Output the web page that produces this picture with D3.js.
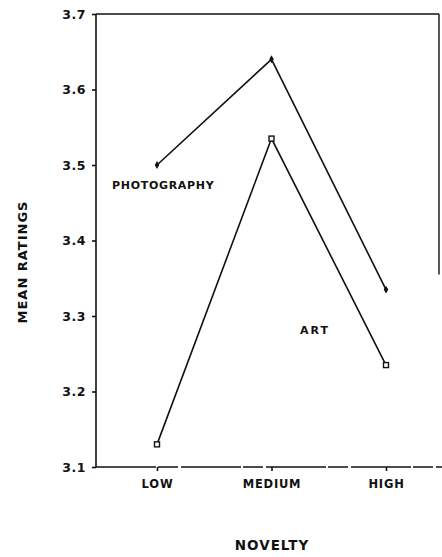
<!DOCTYPE html>
<html>
<head>
<meta charset="utf-8">
<script src="https://cdn.jsdelivr.net/npm/d3@7"></script>
<style>
  body { margin: 0; background: #fff; }
  text { font-family: "DejaVu Sans", sans-serif; font-weight: bold; fill: #111; }
  .axis path, .axis line { stroke: #111; stroke-width: 1.6; }
</style>
</head>
<body>
<script>
// novelty levels and mean ratings
var novelty = ["LOW", "MEDIUM", "HIGH"];
var photography = [3.50, 3.64, 3.335];
var art = [3.13, 3.535, 3.235];
var yTicks = [3.1, 3.2, 3.3, 3.4, 3.5, 3.6, 3.7];

(function () {
    var width = 442, height = 557;
    var plotLeft = 96, plotRight = 439, plotTop = 14, plotBottom = 467;

    var svg = d3.select("body").append("svg")
        .attr("width", width)
        .attr("height", height);

    var x = d3.scalePoint()
        .domain(novelty)
        .range([157, 386]);

    var y = d3.scaleLinear()
        .domain([3.1, 3.7])
        .range([plotBottom, plotTop]);

    // frame top and right
    svg.append("line")
        .attr("x1", plotLeft).attr("x2", plotRight)
        .attr("y1", plotTop).attr("y2", plotTop)
        .attr("stroke", "#111").attr("stroke-width", 1.6);
    svg.append("line")
        .attr("x1", plotRight).attr("x2", plotRight)
        .attr("y1", plotTop).attr("y2", y(3.355))
        .attr("stroke", "#111").attr("stroke-width", 1.4);

    // y axis
    var yAxis = d3.axisLeft(y)
        .tickValues(yTicks)
        .tickSize(4)
        .tickPadding(6)
        .tickFormat(d3.format(".1f"));

    svg.append("g")
        .attr("class", "axis")
        .attr("transform", "translate(" + plotLeft + ",0)")
        .call(yAxis)
        .call(function (g) { g.select(".domain").attr("d", "M0," + plotTop + "V" + plotBottom); })
        .selectAll("text")
        .style("font-size", "12.5px")
        .style("letter-spacing", "0.5px");

    // x axis
    var xAxis = d3.axisBottom(x)
        .tickSize(4)
        .tickPadding(9);

    svg.append("g")
        .attr("class", "axis")
        .attr("transform", "translate(0," + plotBottom + ")")
        .call(xAxis)
        .call(function (g) { g.select(".domain").attr("d", "M" + plotLeft + ",0H" + width).attr("stroke-dasharray", "60,2,20,3"); })
        .selectAll("text")
        .style("font-size", "11.5px")
        .style("letter-spacing", "0.8px");

    var line = d3.line()
        .x(function (d, i) { return x(novelty[i]); })
        .y(function (d) { return y(d); });

    // photography series
    svg.append("path")
        .datum(photography)
        .attr("d", line)
        .attr("fill", "none")
        .attr("stroke", "#111")
        .attr("stroke-width", 1.6);

    svg.selectAll(".pmark")
        .data(photography)
        .enter()
        .append("path")
        .attr("class", "pmark")
        .attr("d", d3.symbol(d3.symbolDiamond, 18))
        .attr("transform", function (d, i) { return "translate(" + x(novelty[i]) + "," + y(d) + ")"; })
        .attr("fill", "#111");

    // art series
    svg.append("path")
        .datum(art)
        .attr("d", line)
        .attr("fill", "none")
        .attr("stroke", "#111")
        .attr("stroke-width", 1.6);

    svg.selectAll(".amark")
        .data(art)
        .enter()
        .append("rect")
        .attr("class", "amark")
        .attr("x", function (d, i) { return x(novelty[i]) - 2.5; })
        .attr("y", function (d) { return y(d) - 2.5; })
        .attr("width", 5)
        .attr("height", 5)
        .attr("fill", "#fff")
        .attr("stroke", "#111")
        .attr("stroke-width", 1.4);

    // series labels
    svg.append("text")
        .attr("x", 112)
        .attr("y", y(3.468))
        .style("font-size", "11px")
        .style("letter-spacing", "0.7px")
        .text("PHOTOGRAPHY");

    svg.append("text")
        .attr("x", 300)
        .attr("y", y(3.276))
        .style("font-size", "11px")
        .style("letter-spacing", "2px")
        .text("ART");

    // axis titles
    svg.append("text")
        .attr("transform", "translate(27,262) rotate(-90)")
        .attr("text-anchor", "middle")
        .style("font-size", "13px")
        .style("letter-spacing", "1px")
        .text("MEAN RATINGS");

    svg.append("text")
        .attr("x", 272)
        .attr("y", 550)
        .attr("text-anchor", "middle")
        .style("font-size", "13.5px")
        .style("letter-spacing", "1px")
        .text("NOVELTY");
})();
</script>
</body>
</html>
